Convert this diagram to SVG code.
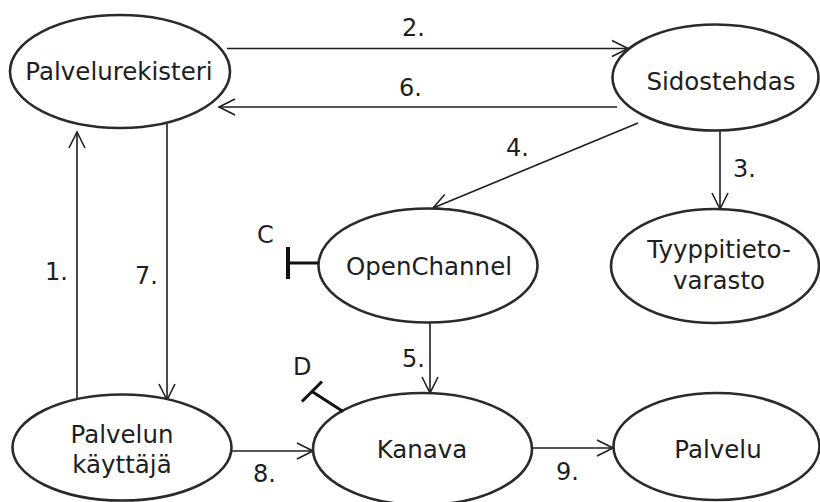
<svg xmlns="http://www.w3.org/2000/svg" width="820" height="502" viewBox="0 0 820 502">
  <style>
    .node { fill: #ffffff; stroke: #2a2a2a; stroke-width: 2.6; }
    .lbl { font-family: "DejaVu Sans", "Liberation Sans", sans-serif; font-size: 24.5px; fill: #1e1e1e; text-anchor: middle; }
    .num { font-family: "DejaVu Sans", "Liberation Sans", sans-serif; font-size: 24px; fill: #1e1e1e; }
    .edge { fill: none; stroke: #1e1e1e; stroke-width: 1.6; }
    .port { fill: none; stroke: #111111; stroke-width: 3; }
  </style>
  <defs>
    <marker id="open" markerUnits="userSpaceOnUse" markerWidth="20" markerHeight="20" viewBox="-17 -10 19 20" refX="0" refY="0" orient="auto">
      <path d="M -16 -8 L 0 0 L -16 8" fill="none" stroke="#1e1e1e" stroke-width="1.6"/>
    </marker>
  </defs>
  <rect width="820" height="502" fill="#ffffff"/>

  <g id="connectors">
    <!-- 2. Palvelurekisteri -> Sidostehdas -->
    <line class="edge" x1="227" y1="48.5" x2="628" y2="48.5" marker-end="url(#open)"/>
    <!-- 6. Sidostehdas -> Palvelurekisteri -->
    <line class="edge" x1="617" y1="107" x2="219" y2="107" marker-end="url(#open)"/>
    <!-- 4. Sidostehdas -> OpenChannel -->
    <line class="edge" x1="638" y1="123" x2="433" y2="208" marker-end="url(#open)"/>
    <!-- 3. Sidostehdas -> Tyyppitietovarasto -->
    <line class="edge" x1="720" y1="131" x2="720" y2="209" marker-end="url(#open)"/>
    <!-- 1. Palvelun käyttäjä -> Palvelurekisteri -->
    <line class="edge" x1="77" y1="398" x2="77" y2="132" marker-end="url(#open)"/>
    <!-- 7. Palvelurekisteri -> Palvelun käyttäjä -->
    <line class="edge" x1="167" y1="124" x2="167" y2="400" marker-end="url(#open)"/>
    <!-- 5. OpenChannel -> Kanava -->
    <line class="edge" x1="430" y1="322" x2="430" y2="393" marker-end="url(#open)"/>
    <!-- 8. Palvelun käyttäjä -> Kanava -->
    <line class="edge" x1="232" y1="451" x2="313" y2="451" marker-end="url(#open)"/>
    <!-- 9. Kanava -> Palvelu -->
    <line class="edge" x1="532" y1="448" x2="613" y2="448" marker-end="url(#open)"/>

    <text class="num" x="402" y="36">2.</text>
    <text class="num" x="399" y="96">6.</text>
    <text class="num" x="506" y="156">4.</text>
    <text class="num" x="733" y="177">3.</text>
    <text class="num" x="45" y="280">1.</text>
    <text class="num" x="135" y="284">7.</text>
    <text class="num" x="402" y="367">5.</text>
    <text class="num" x="253" y="482">8.</text>
    <text class="num" x="556" y="480">9.</text>
  </g>

  <g id="palvelurekisteri">
    <ellipse class="node" cx="120" cy="71.5" rx="110" ry="56.5"/>
    <text class="lbl" x="119" y="80">Palvelurekisteri</text>
  </g>

  <g id="sidostehdas">
    <ellipse class="node" cx="715.5" cy="77.5" rx="103" ry="53"/>
    <text class="lbl" x="721" y="90">Sidostehdas</text>
  </g>

  <g id="openchannel">
    <ellipse class="node" cx="428" cy="265.5" rx="109.5" ry="57"/>
    <text class="lbl" x="429" y="275">OpenChannel</text>
    <!-- provided interface C -->
    <line class="port" x1="288" y1="263" x2="318" y2="263"/>
    <line class="port" x1="288" y1="247" x2="288" y2="279" style="stroke-width:4"/>
    <text class="num" x="257" y="243">C</text>
  </g>

  <g id="tyyppitietovarasto">
    <ellipse class="node" cx="715" cy="266" rx="104" ry="57"/>
    <text class="lbl" x="719" y="258">Tyyppitieto-</text>
    <text class="lbl" x="719" y="289">varasto</text>
  </g>

  <g id="palvelun-kayttaja">
    <ellipse class="node" cx="122" cy="447.5" rx="109.5" ry="53"/>
    <text class="lbl" x="122" y="443">Palvelun</text>
    <text class="lbl" x="122" y="473">käyttäjä</text>
  </g>

  <g id="kanava">
    <ellipse class="node" cx="422.5" cy="449" rx="109.5" ry="56"/>
    <text class="lbl" x="422" y="458">Kanava</text>
    <!-- provided interface D -->
    <line class="port" x1="343" y1="411.5" x2="312" y2="391.5"/>
    <line class="port" x1="302" y1="401.5" x2="322" y2="381.5"/>
    <text class="num" x="293" y="375">D</text>
  </g>

  <g id="palvelu">
    <ellipse class="node" cx="716.5" cy="446.5" rx="103" ry="53.5"/>
    <text class="lbl" x="718" y="458">Palvelu</text>
  </g>
</svg>
